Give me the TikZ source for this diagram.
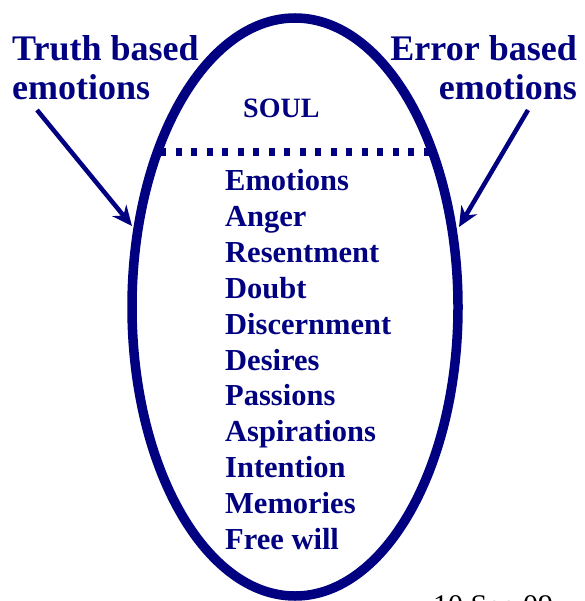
\documentclass[tikz,border=0pt]{standalone}
\usepackage{fontspec}
\setmainfont{Liberation Serif}
\usetikzlibrary{arrows.meta}
\definecolor{bleuame}{RGB}{0,0,128}
\begin{document}
\begin{tikzpicture}[x=1pt,y=-1pt]
\tikzstyle{titre} = [font=\bfseries\fontsize{36}{39}\selectfont,text=bleuame,inner sep=0pt] %grands textes
\tikzstyle{liste} = [font=\bfseries\fontsize{30.5}{36}\selectfont,text=bleuame,inner sep=0pt,anchor=base west]
\tikzstyle{fleche} = [draw=bleuame,line width=4.5pt,-{Stealth[length=20pt,width=18pt]}]
\useasboundingbox (0,0) rectangle (584,601);

%l'ellipse et le trait
\draw[bleuame,line width=9.5pt] (295,307) ellipse (163 and 289);
\draw[bleuame,line width=7.5pt,dash pattern=on 6pt off 9.5pt] (160,152)--(433,152);

%textes du haut
\node[titre,anchor=base west] (vrai1) at (12,61) {Truth based};
\node[titre,anchor=base west] (vrai2) at (12,100) {emotions};
\node[titre,anchor=base east] (faux1) at (577,61) {Error based};
\node[titre,anchor=base east] (faux2) at (577,100) {emotions};
\node[liste,font=\bfseries\fontsize{28}{34}\selectfont] (soul) at (243,118) {SOUL};

%la liste
\foreach \mot [count=\i] in {Emotions,Anger,Resentment,Doubt,Discernment,Desires,Passions,Aspirations,Intention,Memories,Free will}
  \node[liste] (m\i) at (225,{191+35.8*(\i-1)}) {\mot};

%les fleches
\coordinate (dv) at (37,110);
\coordinate (pv) at (132,226);
\coordinate (df) at (528,110);
\coordinate (pf) at (459,227);
\draw[fleche] (dv)--(pv);
\draw[fleche] (df)--(pf);

%date
\node[font=\fontsize{30}{36}\selectfont,anchor=base west,inner sep=0pt] (date) at (433,615) {10 Sep 09};
\end{tikzpicture}
\end{document}
